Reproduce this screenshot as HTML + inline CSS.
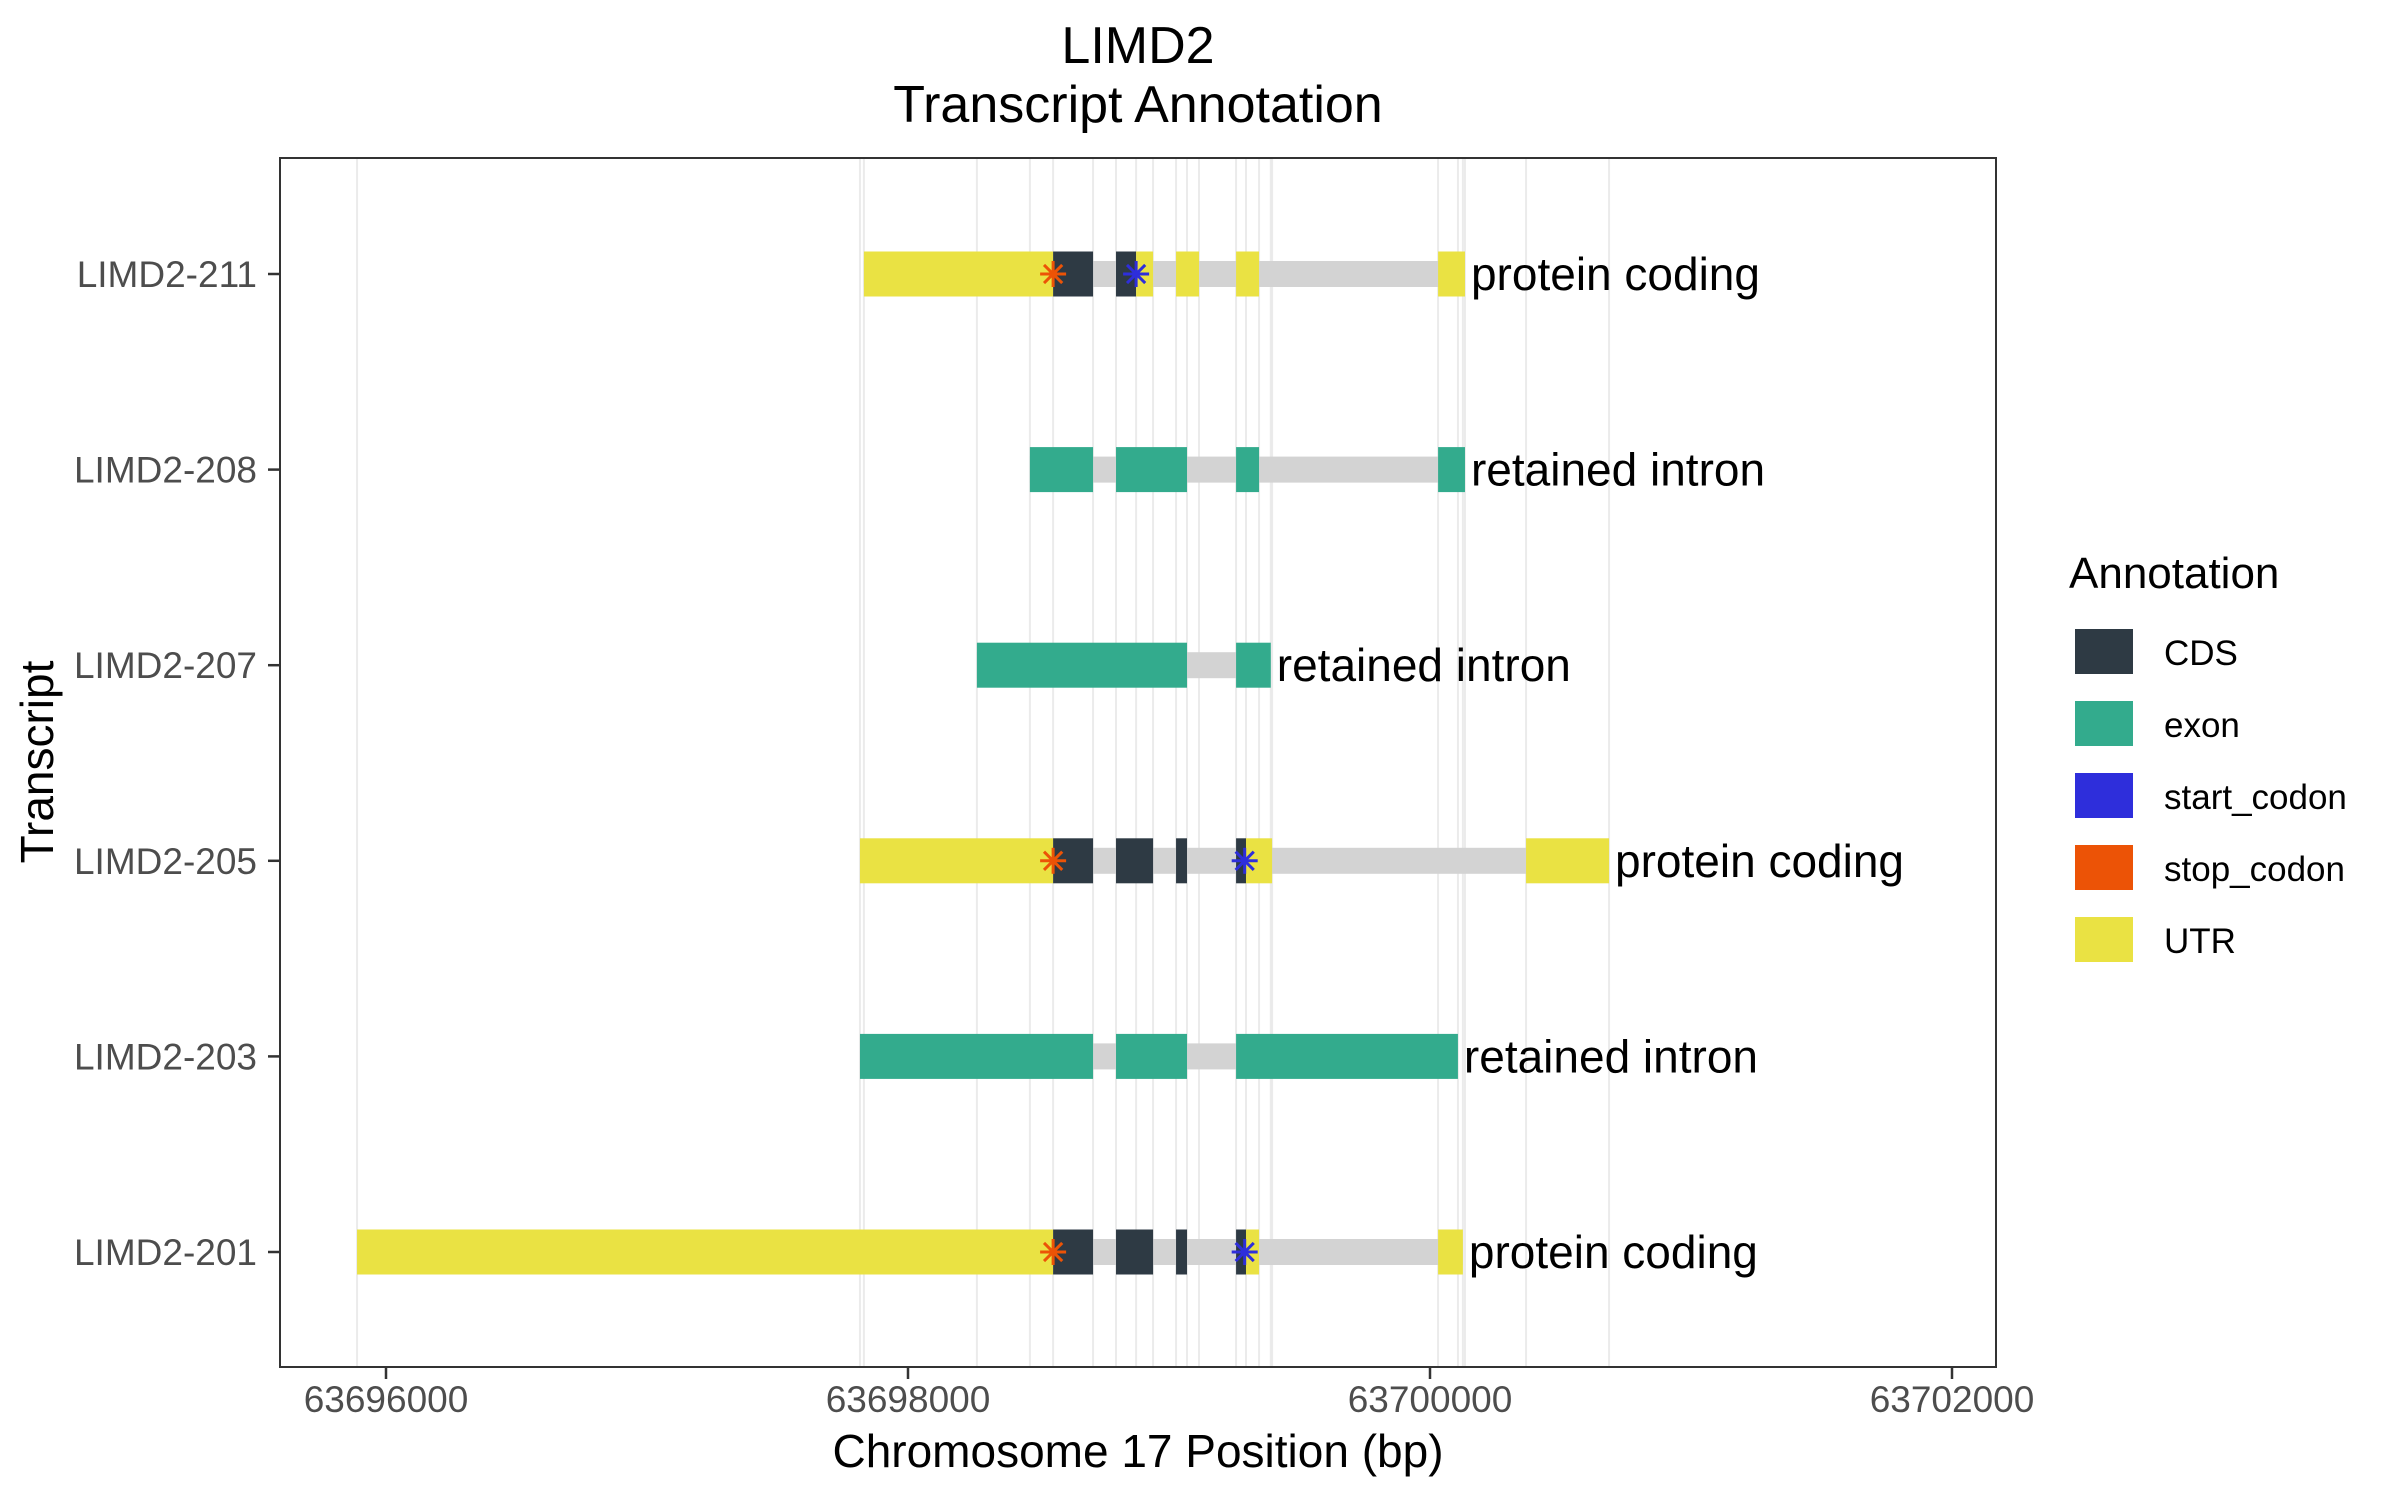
<!DOCTYPE html>
<html><head><meta charset="utf-8"><style>
html,body{margin:0;padding:0;background:#fff}
svg{display:block}
text{font-family:"Liberation Sans",Arial,sans-serif}
</style></head><body>
<svg id="chart" width="2400" height="1500" viewBox="0 0 2400 1500" xmlns="http://www.w3.org/2000/svg">
<rect width="2400" height="1500" fill="#fff"/>
<text x="1138" y="63" font-size="52" text-anchor="middle">LIMD2</text>
<text x="1138" y="122" font-size="52" text-anchor="middle">Transcript Annotation</text>
<g id="grid"></g>
<g id="marks"></g>
<rect x="280" y="158" width="1716" height="1209" fill="none" stroke="#333" stroke-width="2"/>
<g id="axes"></g>
<text x="1138" y="1467" font-size="46" text-anchor="middle">Chromosome 17 Position (bp)</text>
<text transform="translate(53,762) rotate(-90)" font-size="46" text-anchor="middle">Transcript</text>
<g id="legend">
<text x="2069" y="588" font-size="44">Annotation</text>
</g>
</svg>
<script>
const transcripts = ["LIMD2-211","LIMD2-208","LIMD2-207","LIMD2-205","LIMD2-203","LIMD2-201"];
const biotypes = ["protein coding","retained intron","retained intron","protein coding","retained intron","protein coding"];
const segStarts = [
  [63697831,63698556,63698797,63698874,63699027,63699257,63700031],
  [63698467,63698797,63699257,63700031],
  [63698264,63699257],
  [63697816,63698556,63698797,63699027,63699257,63699295,63700368],
  [63697816,63698797,63699257],
  [63695889,63698556,63698797,63699027,63699257,63699295,63700031]
];
const segEnds = [
  [63698556,63698709,63698874,63698939,63699115,63699345,63700134],
  [63698709,63699069,63699345,63700134],
  [63699069,63699390],
  [63698556,63698709,63698939,63699069,63699295,63699395,63700686],
  [63698709,63699069,63700107],
  [63698556,63698709,63698939,63699069,63699295,63699345,63700126]
];
const segTypes = [
  ["UTR","CDS","CDS","UTR","UTR","UTR","UTR"],
  ["exon","exon","exon","exon"],
  ["exon","exon"],
  ["UTR","CDS","CDS","CDS","CDS","UTR","UTR"],
  ["exon","exon","exon"],
  ["UTR","CDS","CDS","CDS","CDS","UTR","UTR"]
];
const stopCodons = [63698556,null,null,63698556,null,63698556];
const startCodons = [63698874,null,null,63699290,null,63699290];
const xTicks = [63696000,63698000,63700000,63702000];
const xTickLabels = ["63696000","63698000","63700000","63702000"];
const legendKeys = ["CDS","exon","start_codon","stop_codon","UTR"];

const colors = {CDS:"#2e3a44", exon:"#33ab8d", start_codon:"#2e2edb", stop_codon:"#ec5306", UTR:"#eae243"};
const NS = "http://www.w3.org/2000/svg";
function xs(bp){ return 386 + (bp - 63696000) * 0.261; }
function ys(i){ return 274 + i * 195.6; }
function mk(tag, attrs, parent){ const e = document.createElementNS(NS, tag); for (const k in attrs) e.setAttribute(k, attrs[k]); parent.appendChild(e); return e; }
const grid = document.getElementById('grid'), marks = document.getElementById('marks'), axes = document.getElementById('axes'), legend = document.getElementById('legend');

const gx = new Set();
segStarts.forEach(a => a.forEach(v => gx.add(v)));
segEnds.forEach(a => a.forEach(v => gx.add(v)));
[...gx].forEach(v => {
  const x = xs(v);
  if (x < 281 || x > 1995) return;
  const l = mk('line', {x1:x, x2:x, y1:159, y2:1366, stroke:'#ebebeb', 'stroke-width':2}, grid);
  
  
});

transcripts.forEach((t, i) => {
  const y = ys(i);
  const s = segStarts[i], e = segEnds[i];
  const lo = Math.min(...s), hi = Math.max(...e);
  const g = mk('g', {}, marks);
  
  
  const intr = mk('rect', {x:xs(lo), y:y-13, width:xs(hi)-xs(lo), height:26, fill:'#d3d3d3'}, g);
  
  
  s.forEach((st, j) => {
    const r = mk('rect', {x:xs(st), y:y-22.5, width:xs(e[j])-xs(st), height:45, fill:colors[segTypes[i][j]]}, g);
    
    
  });
  [[stopCodons[i], colors.stop_codon, 'stop-codon-marker'], [startCodons[i], colors.start_codon, 'start-codon-marker']].forEach(([v, c, nm]) => {
    if (v == null) return;
    const cx = xs(v), r = 13;
    const m = mk('g', {stroke:c, 'stroke-width':3}, g);
    
    
    mk('line', {x1:cx, x2:cx, y1:y-r, y2:y+r}, m);
    mk('line', {x1:cx-r, x2:cx+r, y1:y, y2:y}, m);
    mk('line', {x1:cx-r*0.7, x2:cx+r*0.7, y1:y-r*0.7, y2:y+r*0.7}, m);
    mk('line', {x1:cx-r*0.7, x2:cx+r*0.7, y1:y+r*0.7, y2:y-r*0.7}, m);
  });
  const lab = mk('text', {x:xs(hi)+6, y:y+16, 'font-size':46, fill:'#000'}, g);
  lab.textContent = biotypes[i];
  
  
  const tk = mk('line', {x1:268, x2:280, y1:y, y2:y, stroke:'#333', 'stroke-width':2.5}, axes);
  
  
  const tl = mk('text', {x:257, y:y+13, 'font-size':37, fill:'#4d4d4d', 'text-anchor':'end'}, axes);
  tl.textContent = t;
  
  
});

xTicks.forEach((v, k) => {
  const x = xs(v);
  const tk = mk('line', {x1:x, x2:x, y1:1367, y2:1379, stroke:'#333', 'stroke-width':2.5}, axes);
  
  
  const tl = mk('text', {x:x, y:1412, 'font-size':37, fill:'#4d4d4d', 'text-anchor':'middle'}, axes);
  tl.textContent = xTickLabels[k];
  
  
});

legendKeys.forEach((k, i) => {
  const y = 629 + i * 72;
  const g = mk('g', {}, legend);
  
  
  mk('rect', {x:2075, y:y, width:58, height:45, fill:colors[k]}, g);
  const t = mk('text', {x:2164, y:y+36, 'font-size':35, fill:'#000'}, g);
  t.textContent = k;
});
</script>
</body></html>
